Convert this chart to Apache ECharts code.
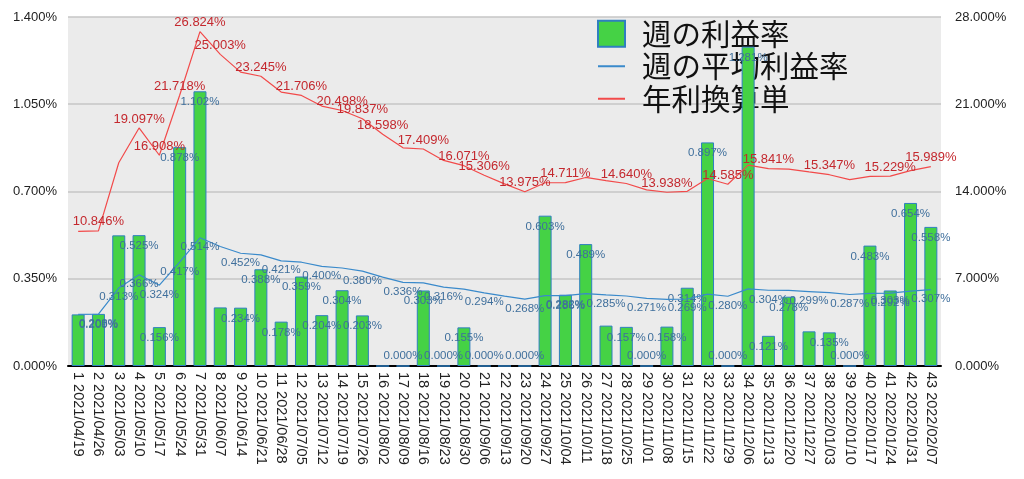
<!DOCTYPE html>
<html>
<head>
<meta charset="utf-8">
<script src="https://cdn.jsdelivr.net/npm/echarts@6/dist/echarts.min.js"></script>
<style>html,body{margin:0;padding:0;background:#fff;}#c{width:1024px;height:479px;}</style>
</head>
<body>
<div id="c"></div>
<script>
const categories = ['1 2021/04/19','2 2021/04/26','3 2021/05/03','4 2021/05/10','5 2021/05/17','6 2021/05/24','7 2021/05/31','8 2021/06/07','9 2021/06/14','10 2021/06/21','11 2021/06/28','12 2021/07/05','13 2021/07/12','14 2021/07/19','15 2021/07/26','16 2021/08/02','17 2021/08/09','18 2021/08/16','19 2021/08/23','20 2021/08/30','21 2021/09/06','22 2021/09/13','23 2021/09/20','24 2021/09/27','25 2021/10/04','26 2021/10/11','27 2021/10/18','28 2021/10/25','29 2021/11/01','30 2021/11/08','31 2021/11/15','32 2021/11/22','33 2021/11/29','34 2021/12/06','35 2021/12/13','36 2021/12/20','37 2021/12/27','38 2022/01/03','39 2022/01/10','40 2022/01/17','41 2022/01/24','42 2022/01/31','43 2022/02/07'];
const weeklyRate = [0.207,0.209,0.524,0.525,0.156,0.878,1.102,0.235,0.234,0.388,0.178,0.359,0.204,0.304,0.203,0,0,0.303,0,0.155,0,0,0,0.603,0.286,0.489,0.162,0.157,0,0.158,0.314,0.897,0,1.281,0.121,0.278,0.139,0.135,0,0.483,0.303,0.654,0.558];
const avgRate = [0.207,0.208,0.3127,0.3658,0.3242,0.4166,0.5144,0.4795,0.4522,0.4458,0.4215,0.4163,0.3999,0.3931,0.3804,0.3566,0.3357,0.3338,0.3163,0.3082,0.2936,0.2802,0.2680,0.2820,0.2821,0.2901,0.2853,0.2808,0.2711,0.2673,0.2688,0.2884,0.2797,0.3092,0.3038,0.3031,0.2986,0.2943,0.2868,0.2917,0.2920,0.3006,0.3066];
const annualRate = [10.794,10.846,16.303,19.097,16.908,21.718,26.824,25.003,23.580,23.245,21.976,21.706,20.853,20.498,19.837,18.598,17.502,17.409,16.491,16.071,15.306,14.609,13.975,14.702,14.711,15.126,14.878,14.640,14.134,13.938,14.017,15.040,14.585,16.120,15.841,15.802,15.571,15.347,14.953,15.209,15.229,15.673,15.989];
const leftTicks = {min: 0, max: 1.4, interval: 0.35};
const rightTicks = {min: 0, max: 28, interval: 7};
// weeks (1-based) whose value labels are visible in the reference
const barLabelHidden = [1,3,8,16,22,27,37];
const avgLabelShown = [2,3,4,5,6,7,9,11,13,15,17,19,21,23,25,27,29,31,33,35,37,39,41,43];
const annualLabelShown = [2,4,5,6,7,8,10,12,14,15,16,18,20,21,23,25,28,30,33,35,38,41,43];

const FONT = "'Liberation Sans', 'Noto Sans CJK JP', sans-serif";
const fmt = v => v.toFixed(3) + '%';
const chart = echarts.init(document.getElementById('c'));
chart.setOption({
  animation: false,
  textStyle: {fontFamily: FONT},
  grid: {left: 68, right: 83, top: 17, bottom: 113, show: true, backgroundColor: '#ebebeb', borderWidth: 0},
  legend: {
    orient: 'vertical', left: 592, top: 14, z: 1,
    itemWidth: 27, itemHeight: 26, itemGap: 3,
    textStyle: {fontSize: 29.5, color: '#111', fontFamily: "'Noto Sans CJK JP', sans-serif", padding: [0,0,0,12]},
    data: [
      {name: '週の利益率', icon: 'rect'},
      {name: '週の平均利益率', itemStyle: {opacity: 0}},
      {name: '年利換算単', itemStyle: {opacity: 0}}
    ]
  },
  xAxis: {
    type: 'category', data: categories,
    axisLine: {lineStyle: {color: '#000', width: 2}},
    axisTick: {show: false},
    axisLabel: {rotate: -90, interval: 0, fontSize: 14.5, color: '#222', margin: 6, fontFamily: FONT}
  },
  yAxis: [
    {type: 'value', min: leftTicks.min, max: leftTicks.max, interval: leftTicks.interval,
     axisLine: {show: false}, axisTick: {show: false},
     axisLabel: {formatter: v => v.toFixed(3) + '%', fontSize: 13, color: '#222', margin: 11},
     splitLine: {lineStyle: {color: '#c6c6c6', width: 1.5}}},
    {type: 'value', min: rightTicks.min, max: rightTicks.max, interval: rightTicks.interval,
     axisLine: {show: false}, axisTick: {show: false},
     axisLabel: {formatter: v => v.toFixed(3) + '%', fontSize: 13, color: '#222', margin: 14},
     splitLine: {show: false}}
  ],
  series: [
    {
      name: '週の利益率', type: 'bar', yAxisIndex: 0, z: 2, barWidth: 13,
      itemStyle: {color: '#45d245', borderColor: '#2f7fc0', borderWidth: 1},
      data: weeklyRate.map((v, i) => ({
        value: v,
        label: {show: !barLabelHidden.includes(i + 1), position: v === 0 ? 'insideBottom' : 'insideTop'}
      })),
      label: {formatter: p => fmt(p.value), fontSize: 11.5, color: '#3f6f9c', distance: 5}
    },
    {
      name: '週の平均利益率', type: 'line', yAxisIndex: 0, z: 3,
      symbol: 'circle', symbolSize: 1, showSymbol: true,
      lineStyle: {color: '#3a8acb', width: 1.2}, itemStyle: {color: 'rgba(0,0,0,0)'},
      data: avgRate,
      label: {show: true, position: 'bottom', distance: 3, fontSize: 11.5, color: '#3f6f9c',
        formatter: p => avgLabelShown.includes(p.dataIndex + 1) ? fmt(p.value) : ''}
    },
    {
      name: '年利換算単', type: 'line', yAxisIndex: 1, z: 3,
      symbol: 'circle', symbolSize: 1, showSymbol: true,
      lineStyle: {color: '#f24a4a', width: 1.2}, itemStyle: {color: 'rgba(0,0,0,0)'},
      data: annualRate,
      label: {show: true, position: 'top', distance: 2, fontSize: 13, color: '#c4282e',
        formatter: p => annualLabelShown.includes(p.dataIndex + 1) ? fmt(p.value) : ''}
    }
  ]
});
</script>
</body>
</html>
